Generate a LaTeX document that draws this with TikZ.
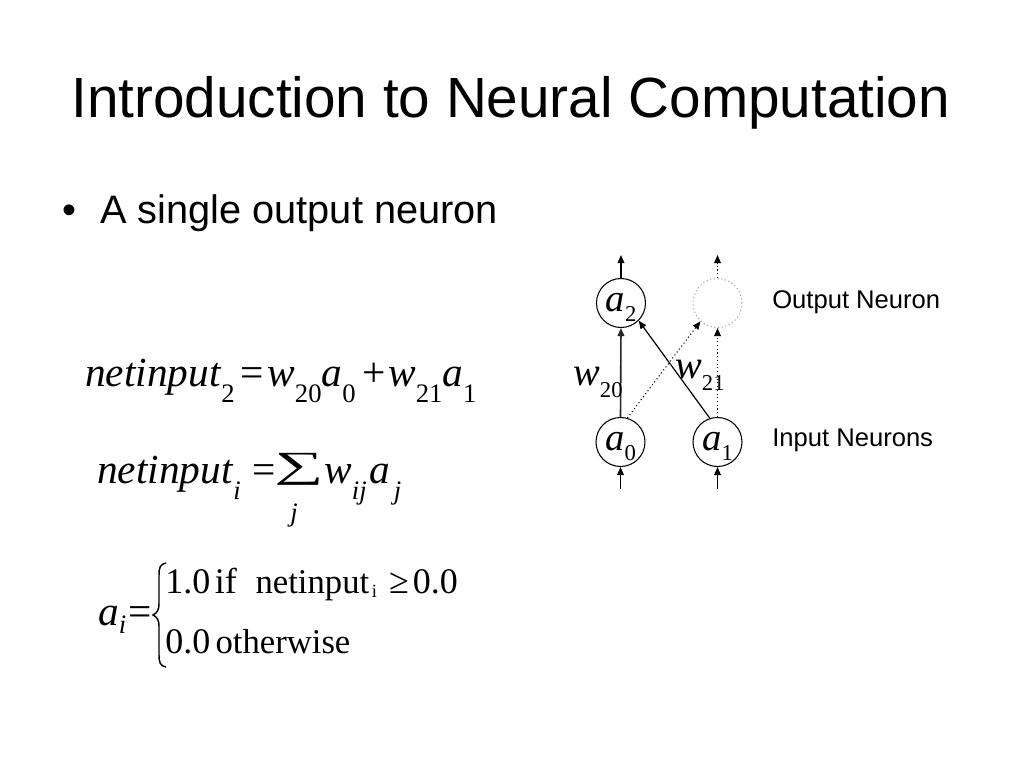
\documentclass[tikz,border=0pt]{standalone}
\usepackage{fontspec}
\setmainfont{Liberation Sans}
\newfontfamily\tnr{Liberation Serif}
\usetikzlibrary{arrows.meta}
\newcommand\sbs[2][12pt]{\smash{\raisebox{-#1}{\fontsize{20}{20}\selectfont\upshape #2}}}
\newcommand\isb[2][12pt]{\smash{\raisebox{-#1}{\fontsize{20}{20}\selectfont\itshape #2}}}
\newcommand\dsb[2][9pt]{\smash{\raisebox{-#1}{\fontsize{17}{17}\selectfont\upshape #2}}}
\begin{document}
\begin{tikzpicture}[x=0.75pt,y=-0.75pt,
  txt/.style={inner sep=0pt, anchor=base west},
  eq/.style={txt, font=\tnr\fontsize{31}{36}\selectfont\itshape},
  deq/.style={txt, font=\tnr\fontsize{30}{36}\selectfont\itshape},
  equp/.style={txt, font=\tnr\fontsize{27}{32}\selectfont},
  neuron/.style={circle, draw, line width=0.8pt, minimum size=36.75pt, inner sep=0pt,
    font=\tnr\fontsize{29}{36}\selectfont\itshape},
  ghost/.style={circle, draw=black!35, dotted, line width=0.8pt, minimum size=36.75pt, inner sep=0pt},
  tip/.style={-{Triangle[length=6pt,width=5pt]}},
  solidlink/.style={tip, line width=0.9pt},
  dotlink/.style={tip, dotted, line width=0.8pt},
  lab/.style={txt, font=\fontsize{19.2}{23}\selectfont}]
\useasboundingbox[fill=white] (0,0) rectangle (1024,768);

% title and bullet
\node[txt, font=\fontsize{42.5}{50}\selectfont] (title) at (71,117) {Introduction to Neural Computation};
\node[txt, font=\fontsize{29.8}{36}\selectfont] (bullet) at (62,223) {•};
\node[txt, font=\fontsize{29.8}{36}\selectfont] (point) at (100,223) {A single output neuron};

% equation 1
\node[eq] (eqone) at (85,386) {netinput\kern0.5pt\sbs{2}\hspace{4pt}{\upshape =}\hspace{3pt}w\sbs{20}a\sbs{0}\hspace{5pt}{\upshape +}\hspace{2pt}w\sbs{21}a\sbs{1}};

% equation 2
\node[eq] (eqtwoL) at (97,483) {netinput\kern0.5pt\isb{i}\hspace{9pt}{\upshape =}};
\node[inner sep=0pt, anchor=south west] (sigma) at (274,486) {\resizebox*{37pt}{24pt}{\tnr ∑}};
\node[eq, anchor=base] (sigj) at (294,521) {\fontsize{20}{20}\selectfont j};
\node[eq] (eqtwoR) at (324,483) {w\isb{ij}\hspace{2pt}a\hspace{3pt}\isb{j}};

% equation 3
\node[eq] (eqthreeL) at (98,625) {a\isb[6pt]{i}\hspace{1.5pt}{\upshape =}};
\draw[line width=1.1pt] (166,563) .. controls (160,564) and (159,568) .. (159,575) -- (159,604)
  .. controls (159,610) and (157,613) .. (153,615) .. controls (157,617) and (159,620) .. (159,626)
  -- (159,655) .. controls (159,662) and (160,666) .. (166,667);
\node[equp] (rowone) at (165,593) {1.0\hspace{3.5pt}if\hspace{14pt}{\fontsize{26}{30}\selectfont netinput}\hspace{2pt}\raisebox{-3pt}{\fontsize{14}{14}\selectfont i}\hspace{9pt}≥\hspace{3pt}0.0};
\node[equp] (rowtwo) at (165,653) {0.0\hspace{4pt}{\fontsize{26}{30}\selectfont otherwise}};

% network
\node[neuron] (a2) at (621,303) {a\dsb[7.5pt]{2}};
\node[ghost] (out) at (717.5,303) {};
\node[neuron] (a0) at (620.5,442) {a\dsb[7.5pt]{0}};
\node[neuron] (a1) at (717.5,442) {a\dsb[7.5pt]{1}};
\coordinate (a2top) at (621,255);
\coordinate (outtop) at (717.5,255);
\coordinate (a0in) at (620.5,489);
\coordinate (a1in) at (717.5,489);

\draw[solidlink] (a2.north) -- (a2top);
\draw[dotlink] (out.north) -- (outtop);
\draw[solidlink] (a0in) -- (a0.south);
\draw[solidlink] (a1in) -- (a1.south);
\draw[solidlink, line width=1.2pt, black!85] (a0.north) -- (a2.south);
\draw[solidlink] (a1.108) -- (a2.-45);
\draw[dotlink] (a0.74) -- (out.227);
\draw[dotlink] (a1.north) -- (out.south);

\node[deq] (wtwozero) at (573,385) {w\dsb{20}};
\node[deq] (wtwoone) at (675,378) {w\dsb{21}};

\node[lab] (outlab) at (772,308) {Output Neuron};
\node[lab] (inlab) at (772,446) {Input Neurons};
\end{tikzpicture}
\end{document}
